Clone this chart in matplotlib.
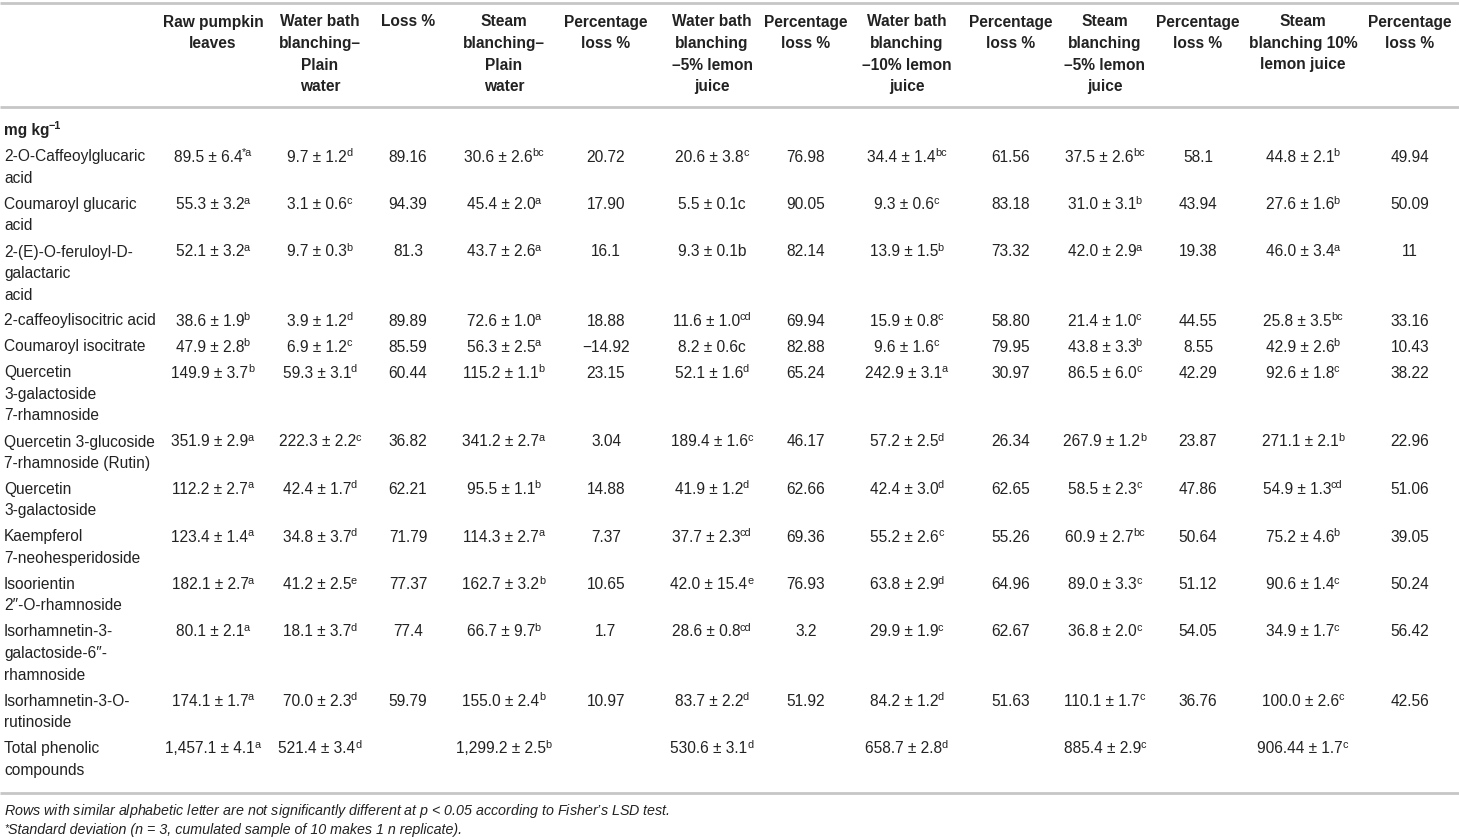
import matplotlib
matplotlib.use("Agg")
import matplotlib.pyplot as plt

plt.rcParams['font.family'] = ['Liberation Sans', 'DejaVu Sans']
plt.rcParams['mathtext.fontset'] = 'custom'
plt.rcParams['mathtext.rm'] = 'Liberation Sans'
plt.rcParams['mathtext.it'] = 'Liberation Sans:italic'
plt.rcParams['mathtext.bf'] = 'Liberation Sans:bold'

# column headers
headers = ["Raw pumpkin\nleaves", "Water bath\nblanching–\nPlain\nwater", "Loss %",
           "Steam\nblanching–\nPlain\nwater", "Percentage\nloss %",
           "Water bath\nblanching\n–5% lemon\njuice", "Percentage\nloss %",
           "Water bath\nblanching\n–10% lemon\njuice", "Percentage\nloss %",
           "Steam\nblanching\n–5% lemon\njuice", "Percentage\nloss %",
           "Steam\nblanching 10%\nlemon juice", "Percentage\nloss %"]

unit = ("mg kg", "−1")

compounds = ["2-O-Caffeoylglucaric\nacid", "Coumaroyl glucaric\nacid",
             "2-(E)-O-feruloyl-D-\ngalactaric\nacid", "2-caffeoylisocitric acid",
             "Coumaroyl isocitrate", "Quercetin\n3-galactoside\n7-rhamnoside",
             "Quercetin 3-glucoside\n7-rhamnoside (Rutin)", "Quercetin\n3-galactoside",
             "Kaempferol\n7-neohesperidoside", "Isoorientin\n2″-O-rhamnoside",
             "Isorhamnetin-3-\ngalactoside-6″-\nrhamnoside",
             "Isorhamnetin-3-O-\nrutinoside", "Total phenolic\ncompounds"]

# values: "mean ± sd^letters"
raw = ["89.5 ± 6.4^*a", "55.3 ± 3.2^a", "52.1 ± 3.2^a", "38.6 ± 1.9^b", "47.9 ± 2.8^b",
       "149.9 ± 3.7^b", "351.9 ± 2.9^a", "112.2 ± 2.7^a", "123.4 ± 1.4^a",
       "182.1 ± 2.7^a", "80.1 ± 2.1^a", "174.1 ± 1.7^a", "1,457.1 ± 4.1^a"]
wb_plain = ["9.7 ± 1.2^d", "3.1 ± 0.6^c", "9.7 ± 0.3^b", "3.9 ± 1.2^d", "6.9 ± 1.2^c",
            "59.3 ± 3.1^d", "222.3 ± 2.2^c", "42.4 ± 1.7^d", "34.8 ± 3.7^d",
            "41.2 ± 2.5^e", "18.1 ± 3.7^d", "70.0 ± 2.3^d", "521.4 ± 3.4^d"]
loss_wb_plain = ["89.16", "94.39", "81.3", "89.89", "85.59", "60.44", "36.82", "62.21",
                 "71.79", "77.37", "77.4", "59.79", ""]
st_plain = ["30.6 ± 2.6^bc", "45.4 ± 2.0^a", "43.7 ± 2.6^a", "72.6 ± 1.0^a", "56.3 ± 2.5^a",
            "115.2 ± 1.1^b", "341.2 ± 2.7^a", "95.5 ± 1.1^b", "114.3 ± 2.7^a",
            "162.7 ± 3.2^b", "66.7 ± 9.7^b", "155.0 ± 2.4^b", "1,299.2 ± 2.5^b"]
loss_st_plain = ["20.72", "17.90", "16.1", "18.88", "−14.92", "23.15", "3.04", "14.88",
                 "7.37", "10.65", "1.7", "10.97", ""]
wb_5 = ["20.6 ± 3.8^c", "5.5 ± 0.1c", "9.3 ± 0.1b", "11.6 ± 1.0^cd", "8.2 ± 0.6c",
        "52.1 ± 1.6^d", "189.4 ± 1.6^c", "41.9 ± 1.2^d", "37.7 ± 2.3^cd",
        "42.0 ± 15.4^e", "28.6 ± 0.8^cd", "83.7 ± 2.2^d", "530.6 ± 3.1^d"]
loss_wb_5 = ["76.98", "90.05", "82.14", "69.94", "82.88", "65.24", "46.17", "62.66",
             "69.36", "76.93", "3.2", "51.92", ""]
wb_10 = ["34.4 ± 1.4^bc", "9.3 ± 0.6^c", "13.9 ± 1.5^b", "15.9 ± 0.8^c", "9.6 ± 1.6^c",
         "242.9 ± 3.1^a", "57.2 ± 2.5^d", "42.4 ± 3.0^d", "55.2 ± 2.6^c",
         "63.8 ± 2.9^d", "29.9 ± 1.9^c", "84.2 ± 1.2^d", "658.7 ± 2.8^d"]
loss_wb_10 = ["61.56", "83.18", "73.32", "58.80", "79.95", "30.97", "26.34", "62.65",
              "55.26", "64.96", "62.67", "51.63", ""]
st_5 = ["37.5 ± 2.6^bc", "31.0 ± 3.1^b", "42.0 ± 2.9^a", "21.4 ± 1.0^c", "43.8 ± 3.3^b",
        "86.5 ± 6.0^c", "267.9 ± 1.2^b", "58.5 ± 2.3^c", "60.9 ± 2.7^bc",
        "89.0 ± 3.3^c", "36.8 ± 2.0^c", "110.1 ± 1.7^c", "885.4 ± 2.9^c"]
loss_st_5 = ["58.1", "43.94", "19.38", "44.55", "8.55", "42.29", "23.87", "47.86",
             "50.64", "51.12", "54.05", "36.76", ""]
st_10 = ["44.8 ± 2.1^b", "27.6 ± 1.6^b", "46.0 ± 3.4^a", "25.8 ± 3.5^bc", "42.9 ± 2.6^b",
         "92.6 ± 1.8^c", "271.1 ± 2.1^b", "54.9 ± 1.3^cd", "75.2 ± 4.6^b",
         "90.6 ± 1.4^c", "34.9 ± 1.7^c", "100.0 ± 2.6^c", "906.44 ± 1.7^c"]
loss_st_10 = ["49.94", "50.09", "11", "33.16", "10.43", "38.22", "22.96", "51.06",
              "39.05", "50.24", "56.42", "42.56", ""]

columns = [raw, wb_plain, loss_wb_plain, st_plain, loss_st_plain, wb_5, loss_wb_5,
           wb_10, loss_wb_10, st_5, loss_st_5, st_10, loss_st_10]

note1 = r'Rows with similar alphabetic letter are not significantly different at $\mathit{p}$ < 0.05 according to Fisher’s LSD test.'
note2 = 'Standard deviation (n = 3, cumulated sample of 10 makes 1 n replicate).'

# layout (pixels)
W, H = 1459, 840
col_x = [213, 320, 408, 504, 606, 712, 806, 907, 1011, 1105, 1198, 1303, 1410]
label_x = 4
line_h = 21.5
row_gap = 4.5
fs = 11.2
sup_fs = 7.8
base = 4.5      # baseline offset below line centre
sup_up = 5.5    # superscript raise
txt = '#222222'
rule = '#c6c6c6'

fig = plt.figure(figsize=(W / 100, H / 100), dpi=100)
ax = fig.add_axes([0, 0, 1, 1])
ax.set_xlim(0, W)
ax.set_ylim(H, 0)
ax.axis('off')
renderer = fig.canvas.get_renderer()


def width(t):
    return t.get_window_extent(renderer).width


def sup_text(x, y, main, sup, ha='center', weight='normal', size=fs, style='normal'):
    # main text with a superscript, centred (or left aligned) as a block
    t = ax.text(x, y + base, main, ha='left', va='baseline', fontsize=size,
                fontweight=weight, style=style, color=txt)
    s = ax.text(x, y + base - sup_up, sup, ha='left', va='baseline',
                fontsize=size * sup_fs / fs, fontweight=weight, style=style, color=txt)
    wm, ws = width(t), width(s)
    x0 = x - (wm + ws) / 2 if ha == 'center' else x
    t.set_x(x0)
    s.set_x(x0 + wm - 0.5)
    return t, s


for y in [3, 107, 793]:
    ax.plot([0, W], [y, y], color=rule, lw=2, solid_capstyle='butt')

for x, h in zip(col_x, headers):
    for i, line in enumerate(h.split('\n')):
        ax.text(x, 22 + i * line_h + base, line, ha='center', va='baseline',
                fontsize=fs, fontweight='bold', color=txt)

sup_text(label_x, 130, unit[0], unit[1], ha='left', weight='bold')

y = 157
for r, name in enumerate(compounds):
    lines = name.split('\n')
    for i, line in enumerate(lines):
        ax.text(label_x, y + i * line_h + base, line, ha='left', va='baseline',
                fontsize=fs, color=txt)
    for x, col in zip(col_x, columns):
        v = col[r]
        if not v:
            continue
        if '^' in v:
            main, sup = v.split('^')
            sup_text(x, y, main, sup)
        else:
            ax.text(x, y + base, v, ha='center', va='baseline', fontsize=fs, color=txt)
    y += len(lines) * line_h + row_gap

ax.text(label_x, 811 + 4, note1, ha='left', va='baseline', fontsize=10.3,
        style='italic', color=txt)
t2 = ax.text(label_x, 830 + 1, '*', ha='left', va='baseline', fontsize=7.5,
             style='italic', color=txt)
ax.text(label_x + width(t2), 830 + 4, note2, ha='left', va='baseline',
        fontsize=10.3, style='italic', color=txt)

fig.savefig('out.png', dpi=100)
